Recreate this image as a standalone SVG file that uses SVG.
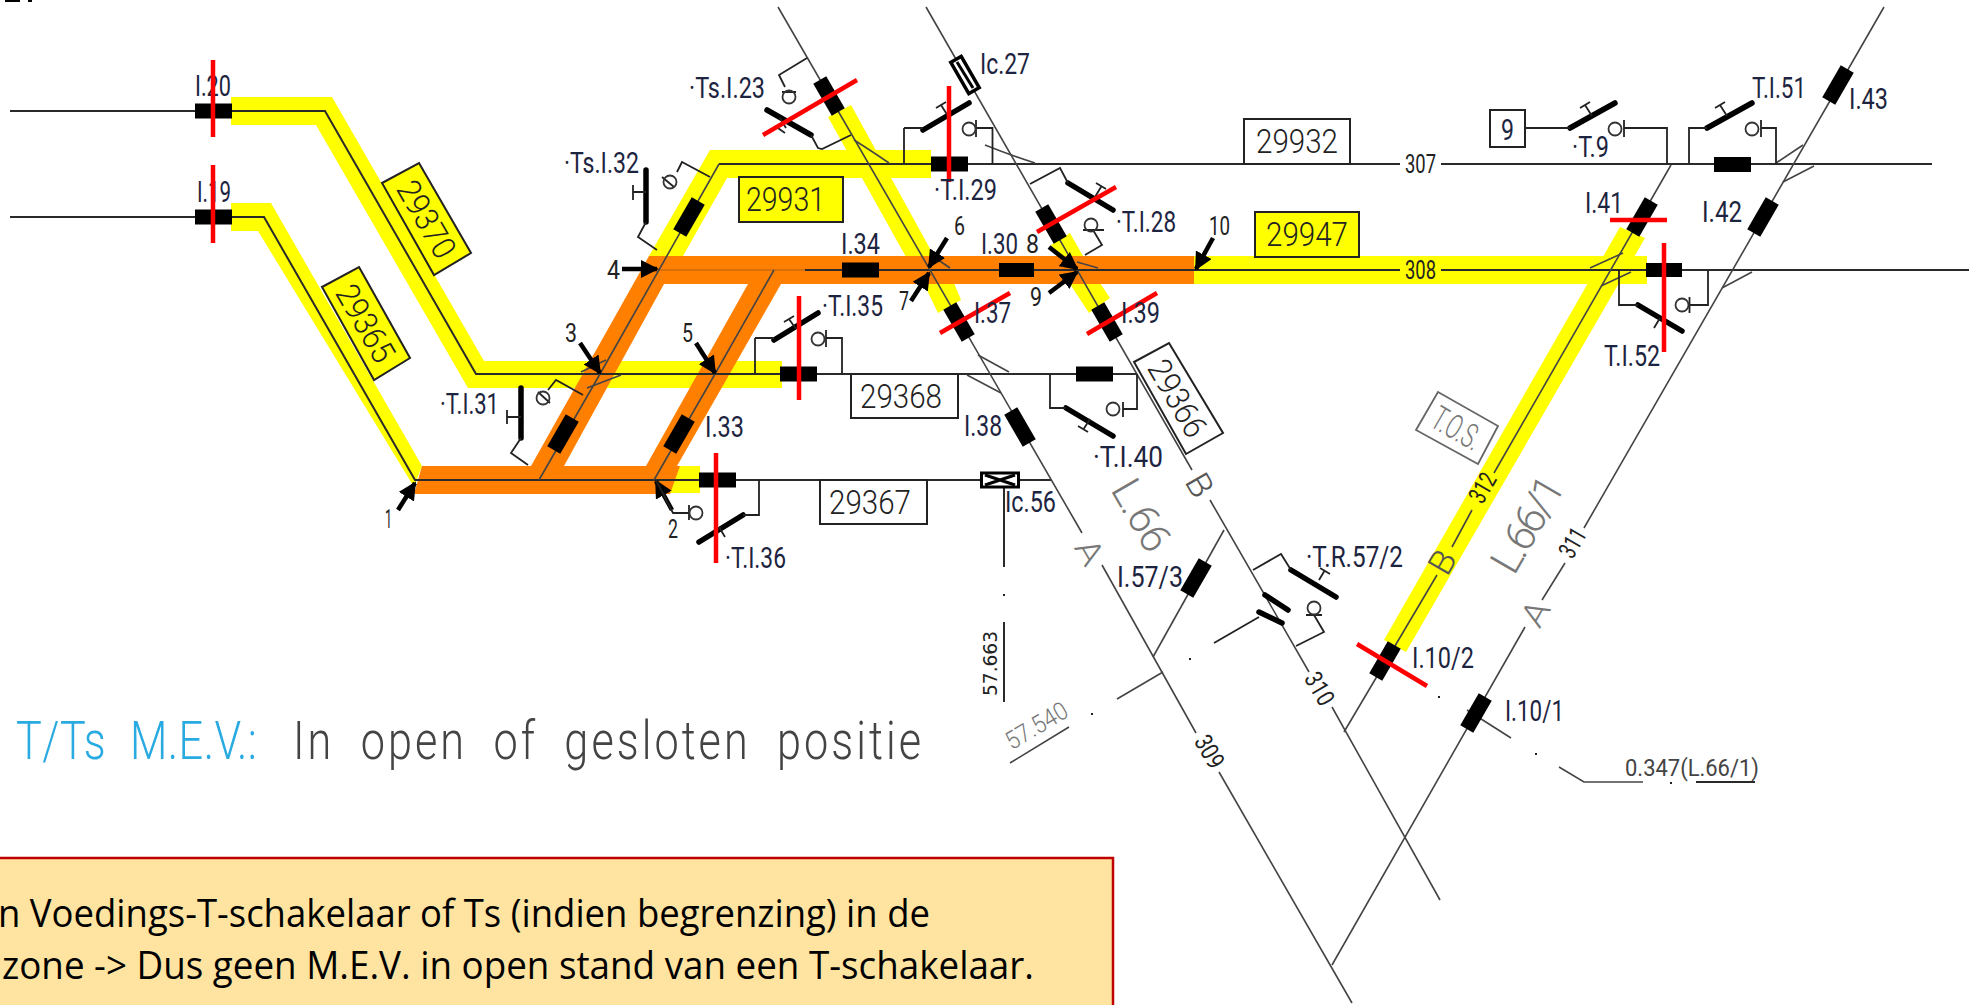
<svg xmlns="http://www.w3.org/2000/svg" width="1969" height="1005" viewBox="0 0 1969 1005">
<defs>
<rect id="blk" x="-18.500" y="-7.500" width="37" height="15" fill="#000"/>
<g id="coil"><circle cx="0" cy="0" r="6.500" fill="none" stroke="#333" stroke-width="1.800"/></g>
<marker id="ah" viewBox="0 0 10 10" refX="9" refY="5" markerWidth="4" markerHeight="4" orient="auto"><path d="M0,0L10,5L0,10Z" fill="#000"/></marker>
</defs>
<style>
text{font-family:"Roboto","Liberation Sans",Arial,sans-serif;fill:#1d2440;font-size:30px}
.y{fill:#ffff00}.o{fill:#ff7f00}
.tr{stroke:#2a2a2a;stroke-width:2;fill:none}
.ln{stroke:#444;stroke-width:1.600;fill:none}
.th{stroke:#000;stroke-width:5.500;fill:none;stroke-linecap:round}
.cn{stroke:#222;stroke-width:1.800;fill:none}
.r{stroke:#ff0000;stroke-width:4.500;fill:none}
.a{stroke:#000;stroke-width:4.500;fill:none;marker-end:url(#ah)}
.bx{fill:#fff;stroke:#222;stroke-width:2}
.byl{fill:#ffff00;stroke:#222;stroke-width:2}
.num{font-size:33px;fill:#222;font-weight:300}
.g{fill:#777;font-size:42px;font-weight:300}
.sm{font-size:25px;fill:#222}
.arr{font-size:26px;fill:#222}
.cap{font-weight:300;font-size:54px;word-spacing:16px}
.nt{font-family:"Open Sans","Liberation Sans",sans-serif;font-size:38px;fill:#000}
</style>
<rect width="1969" height="1005" fill="#fff"/>
<path d="M5,0H20V2H5ZM28,0H32V2H28Z" fill="#000"/>
<g id="highlights">
<polygon class="y" points="231,97 332,97 484,361 782,361 782,388 468,388 316,125 231,125"/>
<polygon class="y" points="231,203 271,203 422,466 414,487 258,231 231,231"/>
<polygon class="y" points="649,256 710,150 931,150 931,178 727,178 683,256"/>
<polygon class="y" points="828,117 851,105 934,256 906,257"/>
<polygon class="y" points="924,284 954,283 961,300 938,313"/>
<polygon class="y" points="1051,245 1070,233 1083,256 1060,256"/>
<polygon class="y" points="1070,284 1100,283 1110,298 1089,313"/>
<polygon class="y" points="1194,256 1647,256 1647,284 1194,284"/>
<polygon class="y" points="1384,640 1620,227 1645,238 1406,652"/>
<polygon class="y" points="670,466 700,466 700,493 670,493"/>
<polygon class="o" points="422,466 680,466 670,494 414,494"/>
<polygon class="o" points="531,466 649,256 683,256 664,284 564,466"/>
<polygon class="o" points="649,256 1194,256 1194,284 664,284"/>
<polygon class="o" points="646,466 748,284 781,284 677,466"/>
</g>
<g id="connectors">
<path class="tr" d="M10,111H325L476,374H1137"/>
<path class="tr" d="M10,217H264L415,480H1051"/>
<path class="tr" d="M719,164H1400M1441,164H1932"/>
<path class="tr" d="M805,270H1400M1441,270H1969"/>
<path d="M650,270H805" stroke="#c96a10" stroke-width="1.500"/>
<path class="ln" d="M539,480L600,374L719,164"/>
<path class="ln" d="M654,480L715,374L774,270" />
<path class="ln" d="M778,7L1082,533M1102,565L1196,733M1219,772L1352,1003"/>
<path class="ln" d="M926,7L1192,470M1210,500L1309,672M1332,707L1440,900"/>
<path class="ln" d="M1671,165L1494,473M1472,510L1452,547M1437,575L1344,732"/>
<path class="ln" d="M1884,7L1584,528M1565,563L1542,600M1525,627L1332,965"/>
<path class="ln" d="M1224,530L1153,657"/>
<path class="ln" d="M581,372L606,360M587,388L621,375M854,140Q870,150 889,163M985,145Q1010,155 1035,163M1077,262L1098,268M934,257L950,268M978,355L1009,372M967,375L1001,393M1590,268L1623,253M1601,286L1631,272M1722,288L1752,272M1776,163L1803,145M1783,182L1814,166"/>
<path class="tr" d="M1004,480V567M1004,622V702"/>
<path class="ln" d="M1163,672L1117,699M1010,763L1069,727M1467,710L1511,738M1559,767L1584,782H1643"/>
<path class="tr" d="M1696,782H1755"/>
<path d="M1004,594v2M1190,658v2M1092,713v2M1439,696v2M1536,753v2M1671,782v2" stroke="#222" stroke-width="2"/>
</g>
<g id="arrows">
<path class="a" d="M398,510L415,483"/><path class="a" d="M672,510L656,481"/><path class="a" d="M580,343L600,373"/><path class="a" d="M622,269H657"/><path class="a" d="M696,343L715,373"/><path class="a" d="M947,238L929,267"/><path class="a" d="M911,301L929,273"/><path class="a" d="M1049,247L1077,269"/><path class="a" d="M1049,293L1077,272"/><path class="a" d="M1213,238L1196,269"/>
<text class="arr" x="385" y="528" textLength="7" lengthAdjust="spacingAndGlyphs">1</text>
<text class="arr" x="668" y="538" textLength="10" lengthAdjust="spacingAndGlyphs">2</text>
<text class="arr" x="565" y="342" textLength="12" lengthAdjust="spacingAndGlyphs">3</text>
<text class="arr" x="607" y="279" textLength="13" lengthAdjust="spacingAndGlyphs">4</text>
<text class="arr" x="682" y="342" textLength="11" lengthAdjust="spacingAndGlyphs">5</text>
<text class="arr" x="954" y="235" textLength="11" lengthAdjust="spacingAndGlyphs">6</text>
<text class="arr" x="899" y="310" textLength="10" lengthAdjust="spacingAndGlyphs">7</text>
<text class="arr" x="1026" y="253" textLength="13" lengthAdjust="spacingAndGlyphs">8</text>
<text class="arr" x="1030" y="306" textLength="12" lengthAdjust="spacingAndGlyphs">9</text>
<text class="arr" x="1209" y="235" textLength="21" lengthAdjust="spacingAndGlyphs">10</text>
</g>
<g id="node-I20"><use href="#blk" transform="translate(213.500,111)"/><text x="195" y="96" textLength="36" lengthAdjust="spacingAndGlyphs">I.20</text><path class="r" d="M213,60V137"/></g>
<g id="node-I19"><use href="#blk" transform="translate(213.500,217)"/><text x="197" y="202" textLength="34" lengthAdjust="spacingAndGlyphs">I.19</text><path class="r" d="M213,165V243"/></g>
<g id="box-29370"><polygon class="byl" points="419,163 471,253 434,275 382,183"/><text class="num" transform="translate(427,219) rotate(60)" x="-42" y="12" textLength="84" lengthAdjust="spacingAndGlyphs">29370</text></g>
<g id="box-29365"><polygon class="byl" points="359,267 410,358 374,380 322,287"/><text class="num" transform="translate(366,323) rotate(60)" x="-42" y="12" textLength="84" lengthAdjust="spacingAndGlyphs">29365</text></g>
<g id="node-TsI32"><text x="564" y="173" textLength="75" lengthAdjust="spacingAndGlyphs">·Ts.I.32</text><path class="th" d="M646,170V222"/><path class="cn" d="M633,192H646M633,185V200M646,222L638,237L657,250M677,172L682,162L710,177M662,177L674,187"/><use href="#coil" transform="translate(670,182)"/><use href="#blk" transform="translate(689,217) rotate(-60)"/></g>
<g id="node-TI31"><text x="440" y="414" textLength="59" lengthAdjust="spacingAndGlyphs">·T.I.31</text><path class="th" d="M521,388V438"/><path class="cn" d="M507,417H521M507,410V424M521,438L511,453L528,465M548,390L556,380L583,395M538,392L550,403"/><use href="#coil" transform="translate(543,398)"/><use href="#blk" transform="translate(563,434) rotate(-60)"/></g>
<g id="node-TsI23"><text x="689" y="98" textLength="76" lengthAdjust="spacingAndGlyphs">·Ts.I.23</text><use href="#blk" transform="translate(829,96) rotate(60)"/><path class="th" d="M767,110L811,135"/><path class="cn" d="M807,58L779,75L785,87M811,135L818,148L822,149L851,135M782,92L796,92M780,118L786,128M775,126L785,133"/><use href="#coil" transform="translate(789,97)"/><path class="r" d="M763,135L857,80"/></g>
<g id="node-Ic27"><rect x="-18" y="-6" width="36" height="12" fill="#fff" stroke="#000" stroke-width="3.500" transform="translate(965,75) rotate(60)"/><path d="M957,62L973,88" stroke="#000" stroke-width="3"/><text x="980" y="74" textLength="50" lengthAdjust="spacingAndGlyphs">Ic.27</text></g>
<g id="node-TI29"><use href="#blk" transform="translate(949.500,164)"/><path class="th" d="M923,130L969,103"/><path class="cn" d="M904,128H923M904,128V164M976,128H992.500V164M976,120V137M941,105L948,116M936,108L946,102"/><use href="#coil" transform="translate(969,129)"/><path class="r" d="M949,86V182"/><text x="934" y="200" textLength="63" lengthAdjust="spacingAndGlyphs">·T.I.29</text></g>
<g id="box-29931"><rect class="byl" x="739" y="177" width="104" height="45"/><text class="num" x="746" y="211" textLength="79" lengthAdjust="spacingAndGlyphs">29931</text></g>
<g id="node-TI28"><use href="#blk" transform="translate(1051,224) rotate(60)"/><path class="th" d="M1068,183L1113,210"/><path class="cn" d="M1030,184L1060,168L1068,183M1083,230H1104M1093,230L1102,245L1085,255M1095,197L1101,187M1096,183L1106,189"/><use href="#coil" transform="translate(1091,225)"/><path class="r" d="M1037,232L1116,187"/><text x="1116" y="232" textLength="60" lengthAdjust="spacingAndGlyphs">·T.I.28</text></g>
<g id="node-I34"><use href="#blk" transform="translate(860.500,270)"/><text x="841" y="254" textLength="39" lengthAdjust="spacingAndGlyphs">I.34</text></g>
<g id="node-I30"><rect x="999" y="263" width="35" height="14"/><text x="981" y="254" textLength="37" lengthAdjust="spacingAndGlyphs">I.30</text></g>
<g id="node-I37"><use href="#blk" transform="translate(959,322) rotate(60)"/><path class="r" d="M940,333L1010,293"/><text x="974" y="323" textLength="37" lengthAdjust="spacingAndGlyphs">I.37</text></g>
<g id="node-I39"><use href="#blk" transform="translate(1107,322) rotate(60)"/><path class="r" d="M1087,334L1157,293"/><text x="1121" y="323" textLength="39" lengthAdjust="spacingAndGlyphs">I.39</text></g>
<g id="node-TI35"><use href="#blk" transform="translate(798.500,374)"/><path class="th" d="M774,340L818,313"/><path class="cn" d="M755,338H774M755,338V374M826,338H842V374M826,330V347M789,319L796,329M784,322L794,316"/><use href="#coil" transform="translate(818,339)"/><path class="r" d="M799,296V400"/><text x="822" y="316" textLength="61" lengthAdjust="spacingAndGlyphs">·T.I.35</text></g>
<g id="box-29368"><rect class="bx" x="851" y="374" width="107" height="44"/><text class="num" x="860" y="408" textLength="82" lengthAdjust="spacingAndGlyphs">29368</text></g>
<g id="node-TI40"><use href="#blk" transform="translate(1094.500,374)"/><path class="th" d="M1066,408L1113,436"/><path class="cn" d="M1050,374V408H1066M1123,409H1137V374M1123,402V417M1083,430L1090,419M1078,426L1088,432"/><use href="#coil" transform="translate(1113,409)"/><text x="1093" y="467" textLength="70" lengthAdjust="spacingAndGlyphs">·T.I.40</text></g>
<g id="box-29366"><polygon class="bx" points="1169,343 1223,433 1186,454 1134,362"/><text class="num" transform="translate(1178,398) rotate(60)" x="-42" y="12" textLength="84" lengthAdjust="spacingAndGlyphs">29366</text></g>
<g id="node-I38"><use href="#blk" transform="translate(1020,427) rotate(60)"/><text x="964" y="436" textLength="38" lengthAdjust="spacingAndGlyphs">I.38</text></g>
<g id="node-I33"><use href="#blk" transform="translate(679,434) rotate(-60)"/><text x="705" y="437" textLength="39" lengthAdjust="spacingAndGlyphs">I.33</text></g>
<g id="node-TI36"><use href="#blk" transform="translate(717.500,480)"/><path class="th" d="M699,542L743,515"/><path class="cn" d="M656,480L673,513H689M743,515H759V480M689,505V520M725,537L719,527"/><use href="#coil" transform="translate(696,513)"/><path class="r" d="M716,453V563"/><text x="725" y="568" textLength="61" lengthAdjust="spacingAndGlyphs">·T.I.36</text></g>
<g id="box-29367"><rect class="bx" x="820" y="480" width="107" height="44"/><text class="num" x="829" y="514" textLength="82" lengthAdjust="spacingAndGlyphs">29367</text></g>
<g id="node-Ic56"><rect x="981.500" y="473" width="37" height="14" fill="#fff" stroke="#000" stroke-width="3"/><path d="M985,475L1015,485M985,485L1015,475" stroke="#000" stroke-width="3"/><text x="1005" y="512" textLength="51" lengthAdjust="spacingAndGlyphs">Ic.56</text></g>
<g id="km-57663"><text transform="translate(997,696) rotate(-90)" style="font-family:'DejaVu Sans',sans-serif;font-size:20px;fill:#222" textLength="65" lengthAdjust="spacingAndGlyphs">57.663</text></g>
<g id="box-29932"><rect class="bx" x="1244" y="119" width="106" height="45"/><text class="num" x="1256" y="153" textLength="82" lengthAdjust="spacingAndGlyphs">29932</text></g>
<g id="box-29947"><rect class="byl" x="1255" y="212" width="104" height="45"/><text class="num" x="1266" y="246" textLength="82" lengthAdjust="spacingAndGlyphs">29947</text></g>
<g id="track-labels">
<text class="sm" x="1405" y="173" textLength="31" lengthAdjust="spacingAndGlyphs">307</text>
<text class="sm" x="1405" y="279" textLength="31" lengthAdjust="spacingAndGlyphs">308</text>
<text class="sm" transform="translate(1209,752) rotate(60)" x="-17" y="8" textLength="34" lengthAdjust="spacingAndGlyphs">309</text>
<text class="sm" transform="translate(1319,689) rotate(60)" x="-17" y="8" textLength="34" lengthAdjust="spacingAndGlyphs">310</text>
<text class="sm" transform="translate(1573,543) rotate(-60)" x="-15" y="8" textLength="30" lengthAdjust="spacingAndGlyphs">311</text>
<text class="sm" transform="translate(1483,488) rotate(-60)" x="-15" y="8" textLength="30" lengthAdjust="spacingAndGlyphs">312</text>
<text class="g" transform="translate(1142,515) rotate(60)" x="-38" y="15" textLength="76" lengthAdjust="spacing">L.66</text>
<text class="g" transform="translate(1527,524) rotate(-60)" x="-52" y="15" textLength="104" lengthAdjust="spacing">L.66/1</text>
<text class="g" style="font-size:34px" transform="translate(1090,552) rotate(60)" x="-12" y="12" textLength="24" lengthAdjust="spacingAndGlyphs">A</text>
<text class="g" style="font-size:34px;fill:#555" transform="translate(1200,485) rotate(60)" x="-11" y="12" textLength="22" lengthAdjust="spacingAndGlyphs">B</text>
<text class="g" style="font-size:34px;fill:#555" transform="translate(1442,562) rotate(-60)" x="-11" y="12" textLength="22" lengthAdjust="spacingAndGlyphs">B</text>
<text class="g" style="font-size:34px" transform="translate(1535,613) rotate(-60)" x="-12" y="12" textLength="24" lengthAdjust="spacingAndGlyphs">A</text>
<text class="g" style="font-size:25px" transform="translate(1041,733) rotate(-31)" x="-34" y="0" textLength="68" lengthAdjust="spacingAndGlyphs">57.540</text>
<text style="font-size:24px;fill:#444" x="1625" y="776" textLength="134" lengthAdjust="spacingAndGlyphs">0.347(L.66/1)</text>
</g>
<g id="box-TOS"><polygon fill="#fff" stroke="#666" stroke-width="1.800" points="1438,392 1498,426 1478,464 1416,430"/><text style="fill:#777;font-size:34px;font-weight:300" transform="translate(1457,428) rotate(30)" x="-26" y="12" textLength="52" lengthAdjust="spacingAndGlyphs">T.O.S.</text></g>
<g id="node-T9"><rect class="bx" x="1490" y="110" width="35" height="37"/><text x="1501" y="140" textLength="13" lengthAdjust="spacingAndGlyphs">9</text><path class="th" d="M1570,128L1615,103"/><path class="cn" d="M1525,128H1570M1624,128H1667V164M1624,120V137M1585,105L1592,116M1580,108L1590,102"/><use href="#coil" transform="translate(1615,129)"/><text x="1572" y="157" textLength="37" lengthAdjust="spacingAndGlyphs">·T.9</text></g>
<g id="node-TI51"><rect x="1714" y="157" width="37" height="15"/><path class="th" d="M1707,128L1752,103"/><path class="cn" d="M1689,164V128H1707M1761,128H1776V164M1761,120V137M1720,105L1727,116M1715,108L1725,102"/><use href="#coil" transform="translate(1752,129)"/><text x="1752" y="98" textLength="54" lengthAdjust="spacingAndGlyphs">T.I.51</text></g>
<g id="node-I43"><use href="#blk" transform="translate(1838,85) rotate(-60)"/><text x="1849" y="109" textLength="39" lengthAdjust="spacingAndGlyphs">I.43</text></g>
<g id="node-I42"><use href="#blk" transform="translate(1763,217) rotate(-60)"/><text x="1702" y="222" textLength="40" lengthAdjust="spacingAndGlyphs">I.42</text></g>
<g id="node-I41"><use href="#blk" transform="translate(1642,217) rotate(-60)"/><path class="r" d="M1610,220H1667"/><text x="1585" y="213" textLength="38" lengthAdjust="spacingAndGlyphs">I.41</text></g>
<g id="node-TI52"><rect x="1646" y="263" width="36" height="14"/><path class="th" d="M1638,305L1682,331"/><path class="cn" d="M1619,270V305H1638M1689.500,305H1708V270M1689.500,297V313M1654,328L1660,318"/><use href="#coil" transform="translate(1682,305)"/><path class="r" d="M1664,243V352"/><text x="1604" y="366" textLength="56" lengthAdjust="spacingAndGlyphs">T.I.52</text></g>
<g id="node-I573"><use href="#blk" transform="translate(1196,578) rotate(-60)"/><text x="1117" y="587" textLength="66" lengthAdjust="spacingAndGlyphs">I.57/3</text></g>
<g id="node-TR572"><path class="th" d="M1291,570L1336,597M1265,595L1288,610M1259,612L1282,623"/><path class="cn" d="M1253,570L1281,554L1291,570M1259,617L1214,643M1306,615H1322M1314,615L1324,632L1296,646M1319,580L1325,570M1320,568L1330,574"/><use href="#coil" transform="translate(1314,608)"/><text x="1306" y="567" textLength="97" lengthAdjust="spacingAndGlyphs">·T.R.57/2</text></g>
<g id="node-I102"><use href="#blk" transform="translate(1385,661) rotate(-60)"/><path class="r" d="M1357,644L1427,686"/><text x="1412" y="668" textLength="62" lengthAdjust="spacingAndGlyphs">I.10/2</text></g>
<g id="node-I101"><use href="#blk" transform="translate(1476,713) rotate(-60)"/><text x="1505" y="721" textLength="59" lengthAdjust="spacingAndGlyphs">I.10/1</text></g>
<g id="caption">
<text class="cap" transform="translate(16,759) scale(0.8,1)" style="fill:#29abe2" textLength="301" lengthAdjust="spacing">T/Ts M.E.V.:</text>
<text class="cap" transform="translate(293,759) scale(0.8,1)" style="fill:#444" textLength="785" lengthAdjust="spacing">In open of gesloten positie</text>
</g>
<g id="note">
<rect x="-5" y="858" width="1118" height="155" fill="#ffe4a1" stroke="#c00000" stroke-width="2.500"/>
<text class="nt" x="-2" y="927" textLength="932" lengthAdjust="spacingAndGlyphs">n Voedings-T-schakelaar of Ts (indien begrenzing) in de</text>
<text class="nt" x="2" y="979" textLength="1032" lengthAdjust="spacingAndGlyphs">zone -&gt; Dus geen M.E.V. in open stand van een T-schakelaar.</text>
</g>
</svg>
